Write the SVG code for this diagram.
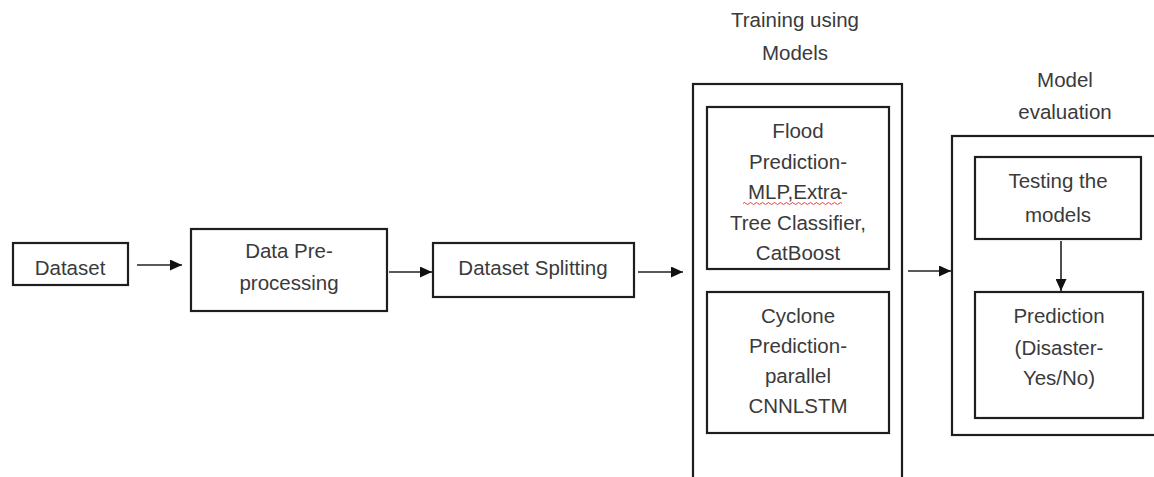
<svg xmlns="http://www.w3.org/2000/svg" width="1154" height="477" viewBox="0 0 1154 477">
<style>
.box{fill:#fff;stroke:#1e1e1e;stroke-width:2.2}
.t{font-family:"Liberation Sans",Arial,sans-serif;font-size:20.5px;fill:#3a3a3a;text-anchor:middle}
.c{stroke:#222;stroke-width:1.6;fill:none}
</style>
<defs>
<marker id="ah" viewBox="0 0 12 11" refX="12" refY="5.5" markerWidth="12" markerHeight="11" markerUnits="userSpaceOnUse" orient="auto">
<path d="M0,0 L12,5.5 L0,11 z" fill="#111"/>
</marker>
</defs>
<rect width="1154" height="477" fill="#fff"/>
<g id="dataset">
<rect class="box" x="13" y="243" width="115" height="42"/>
<text class="t" x="70" y="275">Dataset</text>
</g>
<g id="preprocessing">
<rect class="box" x="191" y="229" width="196" height="82"/>
<text class="t" x="289" y="258">Data Pre-</text>
<text class="t" x="289" y="290">processing</text>
</g>
<g id="splitting">
<rect class="box" x="433" y="243" width="201" height="54"/>
<text class="t" x="533" y="275">Dataset Splitting</text>
</g>
<g id="training">
<text class="t" x="795" y="27">Training using</text>
<text class="t" x="795" y="60">Models</text>
<rect class="box" x="693" y="84" width="209" height="400"/>
</g>
<g id="flood">
<rect class="box" x="707" y="107" width="182" height="162"/>
<text class="t" x="798" y="138">Flood</text>
<text class="t" x="798" y="168.5">Prediction-</text>
<text class="t" x="798" y="199">MLP,Extra-</text>
<text class="t" x="798" y="229.5">Tree Classifier,</text>
<text class="t" x="798" y="260">CatBoost</text>
<path d="M743,203.5 q1.5,-2 3,0 t3,0 t3,0 t3,0 t3,0 t3,0 t3,0 t3,0 t3,0 t3,0 t3,0 t3,0 t3,0 t3,0 t3,0 t3,0 t3,0 t3,0 t3,0 t3,0 t3,0 t3,0 t3,0 t3,0 t3,0 t3,0 t3,0 t3,0 t3,0 t3,0 t3,0 t3,0 t3,0" fill="none" stroke="#e04040" stroke-width="1"/>
</g>
<g id="cyclone">
<rect class="box" x="707" y="292" width="182" height="141"/>
<text class="t" x="798" y="323">Cyclone</text>
<text class="t" x="798" y="353">Prediction-</text>
<text class="t" x="798" y="383">parallel</text>
<text class="t" x="798" y="413">CNNLSTM</text>
</g>
<g id="evaluation">
<text class="t" x="1065" y="87">Model</text>
<text class="t" x="1065" y="119">evaluation</text>
<rect class="box" x="952" y="136" width="210" height="299"/>
</g>
<g id="testing">
<rect class="box" x="975" y="157" width="166" height="82"/>
<text class="t" x="1058" y="188">Testing the</text>
<text class="t" x="1058" y="222">models</text>
</g>
<g id="prediction">
<rect class="box" x="975" y="292" width="168" height="126"/>
<text class="t" x="1059" y="323">Prediction</text>
<text class="t" x="1059" y="355">(Disaster-</text>
<text class="t" x="1059" y="385">Yes/No)</text>
</g>
<g id="connectors">
<line class="c" x1="137" y1="265" x2="182" y2="265" marker-end="url(#ah)"/>
<line class="c" x1="389" y1="272" x2="432" y2="272" marker-end="url(#ah)"/>
<line class="c" x1="638" y1="272" x2="683" y2="272" marker-end="url(#ah)"/>
<line class="c" x1="908" y1="271" x2="951" y2="271" marker-end="url(#ah)"/>
<line class="c" x1="1061" y1="241" x2="1061" y2="291" marker-end="url(#ah)"/>
</g>
</svg>
